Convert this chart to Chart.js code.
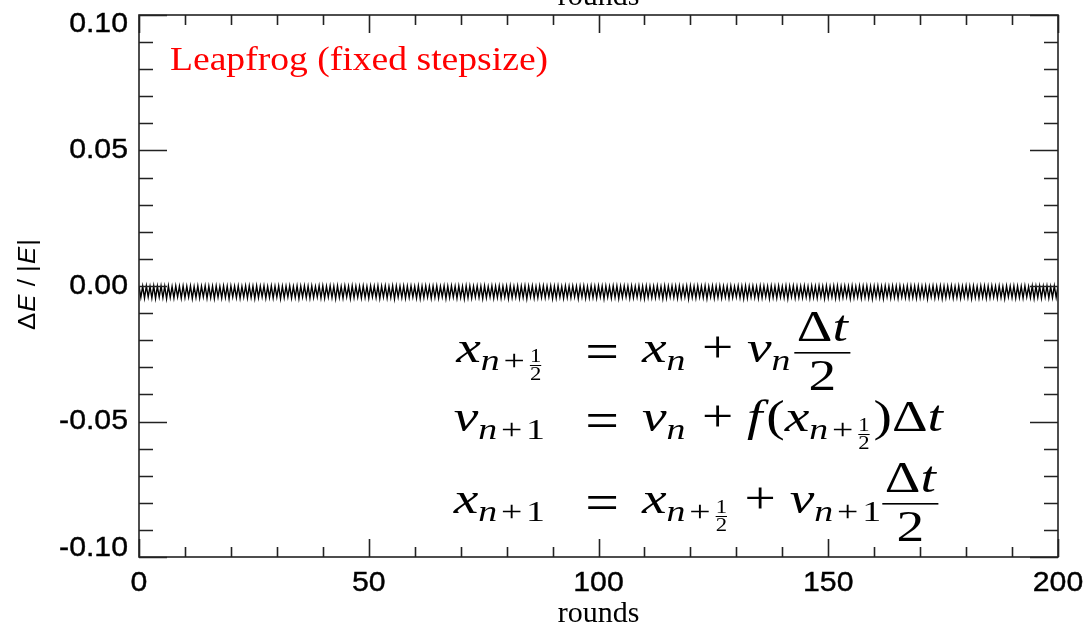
<!DOCTYPE html>
<html>
<head>
<meta charset="utf-8">
<script src="https://cdn.jsdelivr.net/npm/chart.js@4.4.0/dist/chart.umd.min.js"></script>
<style>
  html, body { margin: 0; padding: 0; background: #fff; }
</style>
</head>
<body>
<canvas id="leapfrog" width="1085" height="630"></canvas>
<script>
// axis ticks
const xTickValues = [0, 50, 100, 150, 200];
const xTickLabels = ['0', '50', '100', '150', '200'];
const yTickValues = [-0.10, -0.05, 0.00, 0.05, 0.10];
const yTickLabels = ['-0.10', '-0.05', '0.00', '0.05', '0.10'];

const roundStep = 0.4;
const dEmilli = [
  0,-4.2,-0.1,-4.5,0,-4.0,-0.2,-4.4,0,-4.6,-0.1,-4.1,0,-4.3,-0.1,-4.7,0,-4.2,-0.2,-4.4,
  0,-4.0,-0.1,-4.5,0,-4.3,-0.1,-4.1,0,-4.6,-0.2,-4.2,0,-4.4,-0.1,-4.0,0,-4.5,-0.1,-4.3,
  -0.1,-4.6,0,-4.1,-0.2,-4.4,0,-4.2,-0.1,-4.7,0,-4.0,-0.1,-4.3,0,-4.5,-0.2,-4.1,0,-4.4,
  0,-4.2,-0.1,-4.6,0,-4.3,-0.1,-4.0,0,-4.5,-0.2,-4.2,0,-4.4,-0.1,-4.1,0,-4.7,-0.1,-4.3,
  -0.1,-4.0,0,-4.4,-0.2,-4.2,0,-4.6,-0.1,-4.1,0,-4.3,-0.1,-4.5,0,-4.2,-0.2,-4.0,0,-4.4,
  0,-4.5,-0.1,-4.1,0,-4.3,-0.1,-4.7,0,-4.2,-0.2,-4.4,0,-4.0,-0.1,-4.6,0,-4.3,-0.1,-4.1,
  -0.1,-4.4,0,-4.2,-0.2,-4.5,0,-4.0,-0.1,-4.3,0,-4.6,-0.1,-4.1,0,-4.4,-0.2,-4.2,0,-4.7,
  0,-4.1,-0.1,-4.3,0,-4.5,-0.1,-4.2,0,-4.0,-0.2,-4.4,0,-4.6,-0.1,-4.3,0,-4.1,-0.1,-4.5,
  -0.1,-4.2,0,-4.4,-0.2,-4.0,0,-4.6,-0.1,-4.3,0,-4.1,-0.1,-4.5,0,-4.2,-0.2,-4.7,0,-4.3,
  0,-4.4,-0.1,-4.1,0,-4.2,-0.1,-4.6,0,-4.3,-0.2,-4.0,0,-4.5,-0.1,-4.2,0,-4.4,-0.1,-4.1,
  -0.1,-4.6,0,-4.3,-0.2,-4.1,0,-4.5,-0.1,-4.2,0,-4.7,-0.1,-4.0,0,-4.4,-0.2,-4.3,0,-4.2,
  0,-4.3,-0.1,-4.0,0,-4.6,-0.1,-4.4,0,-4.1,-0.2,-4.5,0,-4.2,-0.1,-4.3,0,-4.0,-0.1,-4.6,
  -0.1,-4.1,0,-4.5,-0.2,-4.3,0,-4.2,-0.1,-4.4,0,-4.0,-0.1,-4.7,0,-4.1,-0.2,-4.4,0,-4.2,
  0,-4.6,-0.1,-4.2,0,-4.0,-0.1,-4.5,0,-4.3,-0.2,-4.1,0,-4.4,-0.1,-4.6,0,-4.2,-0.1,-4.3,
  -0.1,-4.3,0,-4.1,-0.2,-4.6,0,-4.4,-0.1,-4.0,0,-4.2,-0.1,-4.5,0,-4.3,-0.2,-4.1,0,-4.7,
  0,-4.2,-0.1,-4.4,0,-4.1,-0.1,-4.3,0,-4.6,-0.2,-4.0,0,-4.5,-0.1,-4.2,0,-4.4,-0.1,-4.1,
  -0.1,-4.5,0,-4.2,-0.2,-4.0,0,-4.3,-0.1,-4.6,0,-4.4,-0.1,-4.1,0,-4.2,-0.2,-4.5,0,-4.3,
  0,-4.0,-0.1,-4.6,0,-4.2,-0.1,-4.4,0,-4.1,-0.2,-4.3,0,-4.7,-0.1,-4.0,0,-4.4,-0.1,-4.2,
  -0.1,-4.3,0,-4.1,-0.2,-4.5,0,-4.2,-0.1,-4.4,0,-4.0,-0.1,-4.6,0,-4.3,-0.2,-4.1,0,-4.5,
  0,-4.4,-0.1,-4.2,0,-4.0,-0.1,-4.6,0,-4.3,-0.2,-4.1,0,-4.5,-0.1,-4.2,0,-4.4,-0.1,-4.7,
  -0.1,-4.1,0,-4.3,-0.2,-4.6,0,-4.0,-0.1,-4.4,0,-4.2,-0.1,-4.5,0,-4.1,-0.2,-4.3,0,-4.4,
  0,-4.2,-0.1,-4.5,0,-4.3,-0.1,-4.1,0,-4.7,-0.2,-4.0,0,-4.4,-0.1,-4.2,0,-4.6,-0.1,-4.3,
  -0.1,-4.0,0,-4.4,-0.2,-4.2,0,-4.5,-0.1,-4.1,0,-4.3,-0.1,-4.6,0,-4.2,-0.2,-4.4,0,-4.1,
  0,-4.5,-0.1,-4.3,0,-4.1,-0.1,-4.4,0,-4.2,-0.2,-4.6,0,-4.0,-0.1,-4.3,0,-4.5,-0.1,-4.2,
  -0.1,-4.4,0,-4.0,-0.2,-4.3,0,-4.6,-0.1,-4.2,0,-4.5,-0.1,-4.1,0,-4.4,-0.2,-4.3,0,-4.2,
  0
];

const annotation = 'Leapfrog (fixed stepsize)';
const xTitle = 'rounds';

// equation tokens: [text, size, italic, dy, gap]
const half = { frac: true, num: [['1', 18, 0]], den: [['2', 18, 0]], ny: 0, dy: 18, by: 3, lw: 1, pad: 2 };
const dtOver2 = { frac: true, num: [['\u0394', 44, 0], ['t', 44, 1]], den: [['2', 44, 0]], ny: -21, dy: 28, by: -10, lw: 1.6, pad: 6 };
const subNHalf = [['n', 30, 1, 8, 3], ['+', 30, 0, 8, 3], half];
const subN1 = [['n', 30, 1, 8, 3], ['+', 30, 0, 8, 3], ['1', 30, 0, 8]];
const subN = [['n', 30, 1, 8, 2]];
const plus = [' + ', 44, 0, 0];
const equations = [
  { y: 362, lhs: [['x', 44, 1], ...subNHalf],
    rhs: [['x', 44, 1], ...subN, plus, ['v', 44, 1], ...subN, dtOver2] },
  { y: 431, lhs: [['v', 44, 1], ...subN1],
    rhs: [['v', 44, 1], ...subN, plus, ['f', 44, 1, 0, 3], ['(', 44, 0], ['x', 44, 1], ...subNHalf, [')', 44, 0], ['\u0394', 44, 0], ['t', 44, 1]] },
  { y: 513, lhs: [['x', 44, 1], ...subN1],
    rhs: [['x', 44, 1], ...subNHalf, plus, ['v', 44, 1], ...subN1, dtOver2] }
];
const eqStretch = 1.26;

function run(ctx, toks, x, y, draw) {
  for (const t of toks) {
    if (t.frac) {
      const wn = run(ctx, t.num, 0, 0, false);
      const wd = run(ctx, t.den, 0, 0, false);
      const w = Math.max(wn, wd) + t.pad;
      if (draw) {
        run(ctx, t.num, x + (w - wn) / 2, y + t.ny, true);
        run(ctx, t.den, x + (w - wd) / 2, y + t.dy, true);
        ctx.fillRect(x + 1, y + t.by, w - 2, t.lw);
      }
      x += w + 2;
    } else {
      ctx.font = (t[2] ? 'italic ' : '') + t[1] + 'px "Liberation Serif"';
      if (draw) ctx.fillText(t[0], x, y + (t[3] || 0));
      x += ctx.measureText(t[0]).width + (t[4] || 0);
    }
  }
  return x;
}

function runStretched(ctx, toks, x, y) {
  ctx.save();
  ctx.translate(x, 0);
  ctx.scale(eqStretch, 1);
  run(ctx, toks, 0, y, true);
  ctx.restore();
}

function stretched(ctx, s, x, y, sx, align, heavy) {
  ctx.save();
  ctx.translate(x, y);
  ctx.scale(sx, 1);
  ctx.textAlign = align;
  ctx.fillText(s, 0, 0);
  if (heavy) {
    ctx.lineWidth = heavy;
    ctx.strokeStyle = ctx.fillStyle;
    ctx.strokeText(s, 0, 0);
  }
  ctx.restore();
}

const idlFrame = {
  id: 'idlFrame',
  afterDatasetsDraw(chart) {
    const ctx = chart.ctx;
    const xs = chart.scales.x, ys = chart.scales.y;
    const { left, right, top, bottom } = chart.chartArea;
    ctx.save();
    ctx.strokeStyle = '#222';
    ctx.lineWidth = 1.6;
    ctx.strokeRect(left, top, right - left, bottom - top);
    ctx.beginPath();
    for (let k = 0; k <= 20; k++) {
      const v = k * 10;
      const px = Math.round(xs.getPixelForValue(v)) + 0.5;
      const len = xTickValues.includes(v) ? 18 : 10;
      ctx.moveTo(px, bottom); ctx.lineTo(px, bottom - len);
      ctx.moveTo(px, top); ctx.lineTo(px, top + len);
    }
    for (let k = -10; k <= 10; k++) {
      const v = k / 100;
      const py = Math.round(ys.getPixelForValue(v)) + 0.5;
      const len = (k % 5 === 0) ? 28 : 14;
      ctx.moveTo(left, py); ctx.lineTo(left + len, py);
      ctx.moveTo(right, py); ctx.lineTo(right - len, py);
    }
    ctx.stroke();

    // tick labels
    ctx.fillStyle = '#000';
    ctx.font = '28px "Liberation Sans"';
    ctx.textBaseline = 'middle';
    xTickValues.forEach((v, i) => {
      stretched(ctx, xTickLabels[i], xs.getPixelForValue(v), 583, 1.08, 'center', 0.4);
    });
    yTickValues.forEach((v, i) => {
      const py = Math.min(Math.max(ys.getPixelForValue(v), top + 9), bottom - 9);
      stretched(ctx, yTickLabels[i], 128, py, 1.08, 'right', 0.4);
    });

    // axis titles
    ctx.textBaseline = 'alphabetic';
    ctx.font = '30px "Liberation Serif"';
    ctx.textAlign = 'center';
    const cx = (left + right) / 2;
    ctx.fillText(xTitle, cx, 622);
    ctx.fillText(xTitle, cx, 5);

    ctx.save();
    ctx.translate(35, 330);
    ctx.rotate(-Math.PI / 2);
    ctx.scale(1.12, 1);
    ctx.textAlign = 'left';
    let tx = 0;
    [['\u0394', ''], ['E', 'italic '], [' / |', ''], ['E', 'italic '], ['|', '']].forEach(p => {
      ctx.font = p[1] + '23px "Liberation Sans"';
      ctx.fillText(p[0], tx, 0);
      tx += ctx.measureText(p[0]).width + 1;
    });
    ctx.restore();

    // annotation
    ctx.fillStyle = '#ff0000';
    ctx.font = '33px "Liberation Serif"';
    stretched(ctx, annotation, 170, 70, 1.14, 'left');

    // equations
    ctx.fillStyle = '#000';
    ctx.textAlign = 'left';
    equations.forEach(eq => {
      const w = run(ctx, eq.lhs, 0, 0, false) * eqStretch;
      runStretched(ctx, eq.lhs, 545 - w, eq.y);
      ctx.font = '52px "Liberation Serif"';
      stretched(ctx, '=', 602, eq.y + 7, 1.15, 'center');
      ctx.textAlign = 'left';
      runStretched(ctx, eq.rhs, 642, eq.y);
    });
    ctx.restore();
  }
};

const points = dEmilli.map((v, i) => ({ x: i * roundStep, y: v / 1000 }));

new Chart(document.getElementById('leapfrog'), {
  type: 'line',
  data: {
    datasets: [{
      data: points,
      borderColor: '#000',
      borderWidth: 1.4,
      pointRadius: 0,
      tension: 0,
      fill: false
    }]
  },
  options: {
    responsive: false,
    animation: false,
    devicePixelRatio: 1,
    layout: { padding: { left: 139, right: 27, top: 15, bottom: 73 } },
    scales: {
      x: { type: 'linear', min: 0, max: 200, display: false },
      y: { min: -0.1, max: 0.1, display: false }
    },
    plugins: { legend: { display: false }, tooltip: { enabled: false } }
  },
  plugins: [idlFrame]
});
</script>
</body>
</html>
